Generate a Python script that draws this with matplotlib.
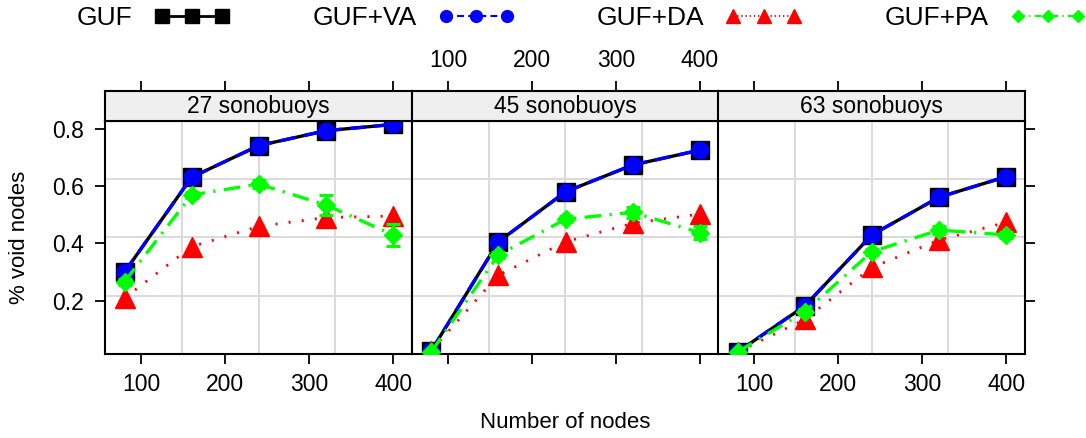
import numpy as np
import matplotlib.pyplot as plt
from matplotlib.lines import Line2D

plt.rcParams['font.family'] = ['Liberation Sans', 'DejaVu Sans']
plt.rcParams['lines.scale_dashes'] = False

# number of nodes per run
nodes = [80, 160, 240, 320, 400]
panels = ["27 sonobuoys", "45 sonobuoys", "63 sonobuoys"]

# fraction of void nodes, one row per panel
guf = [[0.30, 0.632, 0.743, 0.795, 0.817],
       [0.024, 0.406, 0.581, 0.675, 0.727],
       [0.02, 0.181, 0.430, 0.562, 0.634]]
guf_va = [[0.30, 0.632, 0.743, 0.795, 0.817],
          [0.024, 0.406, 0.581, 0.675, 0.727],
          [0.02, 0.181, 0.430, 0.562, 0.634]]
guf_da = [[0.209, 0.389, 0.460, 0.491, 0.496],
          [0.025, 0.289, 0.406, 0.471, 0.503],
          [0.02, 0.134, 0.316, 0.412, 0.474]]
guf_pa = [[0.266, 0.570, 0.608, 0.535, 0.430],
          [0.02, 0.360, 0.485, 0.509, 0.438],
          [0.02, 0.161, 0.371, 0.447, 0.430]]
pa_err = [[0.01, 0.012, 0.015, 0.035, 0.04],
          [0.005, 0.01, 0.01, 0.02, 0.022],
          [0.005, 0.008, 0.01, 0.015, 0.01]]

W, H = 1086, 438
fig = plt.figure(figsize=(W / 100, H / 100), dpi=100)

lefts = [105.3, 412.0, 718.3]
pw = 306.5
p_top, p_bot, s_top = 120.7, 354.3, 90.7
xlim = (57.1, 422.2)
ylim = (0.012, 0.830)

styles = {
    'GUF': dict(color='black', marker='s', ms=13, lw=2.4, ls='-'),
    'GUF+VA': dict(color='#0000FF', marker='o', ms=12, lw=2.4, dashes=(11, 6)),
    'GUF+DA': dict(color='#FF0000', marker='^', ms=14.5, lw=2.0, dashes=(1.5, 8)),
    'GUF+PA': dict(color='#00FF00', marker='D', ms=9, lw=2.4, dashes=(12, 6, 1.6, 6)),
}

for i, name in enumerate(panels):
    x0 = lefts[i] / W
    ax = fig.add_axes([x0, 1 - p_bot / H, pw / W, (p_bot - p_top) / H])
    sax = fig.add_axes([x0, 1 - p_top / H, pw / W, (p_top - s_top) / H])

    ax.set_xlim(*xlim)
    ax.set_ylim(*ylim)
    for gx in np.linspace(xlim[0], xlim[1], 5)[1:-1]:
        ax.axvline(gx, color='#DADADA', lw=1.4, zorder=0)
    for gy in np.linspace(ylim[0], ylim[1], 5)[1:-1]:
        ax.axhline(gy, color='#DADADA', lw=1.4, zorder=0)

    ax.plot(nodes, guf[i], **styles['GUF'], zorder=3)
    ax.plot(nodes, guf_va[i], **styles['GUF+VA'], zorder=4)
    ax.plot(nodes, guf_da[i], **styles['GUF+DA'], zorder=5)
    ax.plot(nodes, guf_pa[i], **styles['GUF+PA'], zorder=6)
    ax.errorbar(nodes, guf_pa[i], yerr=pa_err[i], fmt='none', ecolor='#00FF00',
                elinewidth=2.2, capsize=5, capthick=2.2, zorder=6)

    for sp in ax.spines.values():
        sp.set_linewidth(1.5)
    ax.set_xticks([100, 200, 300, 400])
    ax.set_yticks([0.2, 0.4, 0.6, 0.8])
    ax.set_yticklabels(['0.2', '0.4', '0.6', '0.8'])
    ax.tick_params(axis='x', direction='out', length=7.5, width=1.3,
                   labelsize=16.5, pad=6, labelbottom=(i != 1))
    ax.tick_params(axis='y', direction='out', length=7.5, width=1.3,
                   labelsize=16.5, pad=8, left=(i == 0), labelleft=(i == 0),
                   right=(i == 2), labelright=False)

    # strip with panel title and the top axis ticks
    sax.set_facecolor('#EFEFEF')
    sax.set_xlim(*xlim)
    sax.set_ylim(0, 1)
    sax.set_yticks([])
    sax.set_xticks([100, 200, 300, 400])
    sax.xaxis.tick_top()
    sax.tick_params(axis='x', direction='out', length=7.5, width=1.3,
                    labelsize=16.5, pad=6, top=True, bottom=False,
                    labeltop=(i == 1), labelbottom=False)
    for sp in sax.spines.values():
        sp.set_linewidth(1.5)
    sax.text(0.5, 0.47, name, transform=sax.transAxes, ha='center',
             va='center', fontsize=16.5)

fig.text(20 / W, 1 - 237.5 / H, '% void nodes', rotation=90, ha='center',
         va='center', fontsize=16)
fig.text(565 / W, 1 - 423 / H, 'Number of nodes', ha='center', va='center',
         fontsize=16)

handles = [
    Line2D([], [], color='black', marker='s', ms=10, lw=2, ls='-'),
    Line2D([], [], color='#0000FF', marker='o', ms=8.5, lw=1.5, dashes=(5, 3)),
    Line2D([], [], color='#FF0000', marker='^', ms=10, lw=1.3, dashes=(1, 2)),
    Line2D([], [], color='#00FF00', marker='D', ms=6.5, lw=1.5, dashes=(5, 3, 1, 3)),
]
fig.legend(handles, list(styles.keys()), loc='center left',
           bbox_to_anchor=(77 / W, 1 - 18 / H), ncol=4, frameon=False,
           markerfirst=False, numpoints=3, fontsize=19, handlelength=2.9,
           handletextpad=0.8, columnspacing=3.12, borderpad=0, borderaxespad=0)

fig.savefig('out.png', dpi=100)
